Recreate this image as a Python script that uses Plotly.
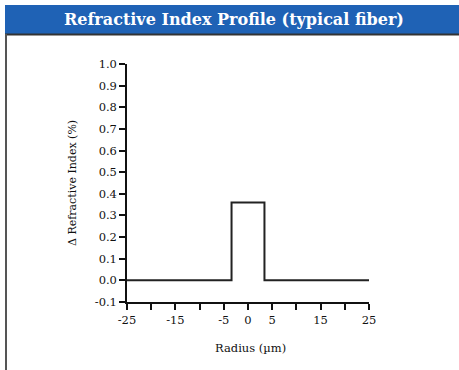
import plotly.graph_objects as go

# Data
radius_um = [-25, -3.4, 3.4, 25]
delta_index = [0.0, 0.36, 0.0, 0.0]
x_tickvals = [-25, -20, -15, -10, -5, 0, 5, 10, 15, 20, 25]
x_ticktext = ["-25", "", "-15", "", "-5", "0", "5", "", "15", "", "25"]
y_tickvals = [-0.1, 0.0, 0.1, 0.2, 0.3, 0.4, 0.5, 0.6, 0.7, 0.8, 0.9, 1.0]
y_ticktext = ["-0.1", "0.0", "0.1", "0.2", "0.3", "0.4", "0.5", "0.6", "0.7", "0.8", "0.9", "1.0"]

W, H = 459, 370
L, R, T, B = 127, 369, 64, 302

def px(xp):
    return (xp - L) / (R - L)

def py(yp):
    return (B - yp) / (B - T)

SERIF = "DejaVu Serif, Liberation Serif, serif"

fig = go.Figure()
fig.add_trace(go.Scatter(
    x=radius_um, y=delta_index, mode="lines", line_shape="hv",
    line=dict(color="#222222", width=2), hoverinfo="skip", showlegend=False,
))

fig.update_layout(
    width=W, height=H,
    margin=dict(l=L, r=W - R, t=T, b=H - B),
    paper_bgcolor="white", plot_bgcolor="white",
    font=dict(family=SERIF, size=11, color="#111111"),
    showlegend=False,
    xaxis=dict(
        range=[-25, 25], tickvals=x_tickvals, ticktext=x_ticktext,
        showline=True, linecolor="#111111", linewidth=1.5,
        ticks="outside", ticklen=6, tickwidth=1.5, tickcolor="#111111",
        showgrid=False, zeroline=False, fixedrange=True,
        tickfont=dict(family=SERIF, size=11.5),
    ),
    yaxis=dict(
        range=[-0.1, 1.0], tickvals=y_tickvals, ticktext=y_ticktext,
        showline=True, linecolor="#111111", linewidth=1.5,
        ticks="outside", ticklen=6, tickwidth=1.5, tickcolor="#111111",
        showgrid=False, zeroline=False, fixedrange=True,
        tickfont=dict(family=SERIF, size=11.5),
    ),
    shapes=[
        # title bar
        dict(type="rect", xref="paper", yref="paper",
             x0=px(5), x1=px(W + 2), y0=py(34), y1=py(5),
             fillcolor="#1f62b5", line=dict(width=0), layer="below"),
        # line under title bar
        dict(type="line", xref="paper", yref="paper",
             x0=px(5), x1=px(W + 2), y0=py(34.5), y1=py(34.5),
             line=dict(color="#333333", width=2)),
        # left border
        dict(type="line", xref="paper", yref="paper",
             x0=px(6), x1=px(6), y0=py(34), y1=py(H + 2),
             line=dict(color="#555555", width=2)),
    ],
    annotations=[
        dict(text="<b>Refractive Index Profile (typical fiber)</b>",
             xref="paper", yref="paper", x=px(234), y=py(19.5),
             xanchor="center", yanchor="middle", showarrow=False,
             font=dict(family=SERIF, size=16, color="white")),
        dict(text="Δ Refractive Index (%)", xref="paper", yref="paper",
             x=px(72), y=py(183), textangle=-90,
             xanchor="center", yanchor="middle", showarrow=False,
             font=dict(family=SERIF, size=11)),
        dict(text="Radius (µm)", xref="paper", yref="paper",
             x=px(250), y=py(348), xanchor="center", yanchor="middle",
             showarrow=False, font=dict(family=SERIF, size=11.5)),
    ],
)

fig.write_html("out.html", config={"displayModeBar": False},
               post_script="document.body.style.margin='0';document.body.style.padding='0';")
